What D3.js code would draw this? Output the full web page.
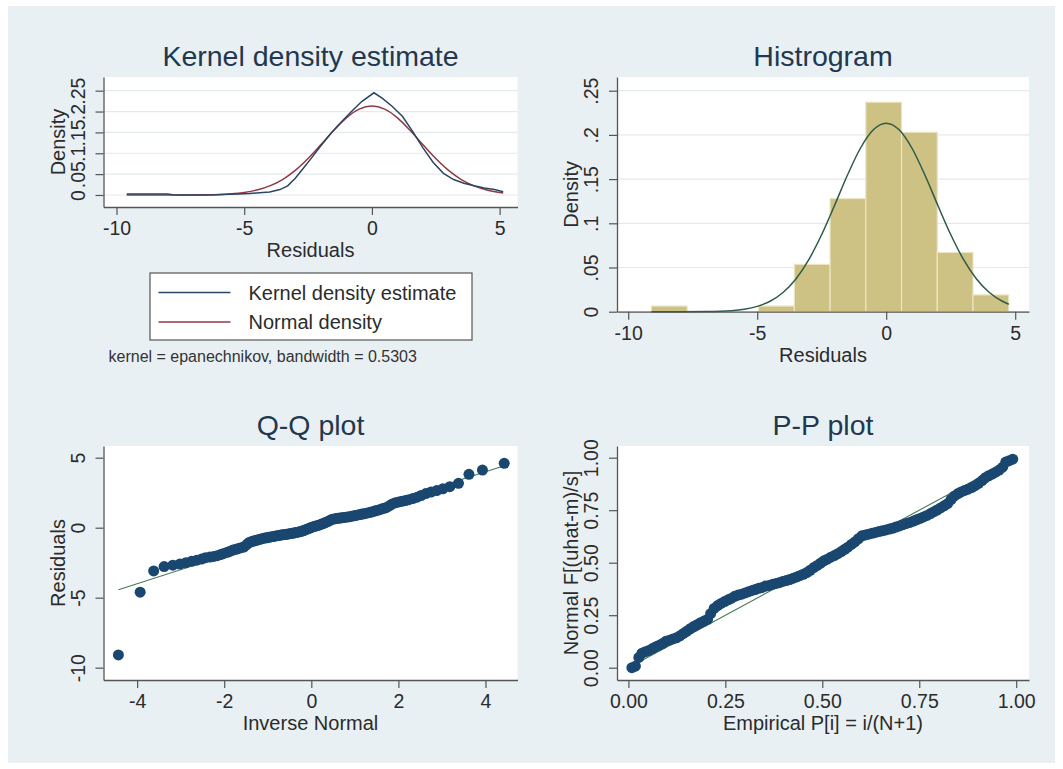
<!DOCTYPE html>
<html>
<head>
<meta charset="utf-8">
<script src="https://d3js.org/d3.v7.min.js"></script>
<style>
  body { margin: 0; background: #fff; }
  svg { display: block; font-family: "Liberation Sans", Arial, sans-serif; }
  .ptitle { fill: #22384f; font-size: 28.5px; }
  .atitle { fill: #2b2b2b; font-size: 20px; }
</style>
</head>
<body>
<div id="my_dataviz"></div>
<script>

// ---- kernel density panel ----
var kdeX = [-9.6, -9.0, -8.5, -8.0, -7.8, -7.5, -7.0, -6.5, -6.0, -5.6,
            -5.2, -4.8, -4.4, -4.0, -3.6, -3.3, -3.0, -2.7, -2.4, -2.0,
            -1.6, -1.2, -0.8, -0.4, 0.08, 0.4, 0.8, 1.2, 1.6, 2.0,
            2.4, 2.8, 3.2, 3.6, 4.0, 4.4, 4.8, 5.14];
var kdeY = [0.0025, 0.0026, 0.0025, 0.0022, 0.0008, 0.0, 0.0, 0.0, 0.0003, 0.0015,
            0.0025, 0.0035, 0.0055, 0.007, 0.013, 0.022, 0.040, 0.063, 0.086, 0.118,
            0.148, 0.175, 0.200, 0.224, 0.245, 0.232, 0.212, 0.188, 0.152, 0.113,
            0.078, 0.052, 0.037, 0.028, 0.022, 0.017, 0.013, 0.008];
var normX = [-9.6, -8.0, -7.0, -6.0, -5.5, -5.0, -4.5, -4.0, -3.5, -3.0, -2.5, -2.0, -1.5,
             -1.0, -0.5, 0.0, 0.5, 1.0, 1.5, 2.0, 2.5, 3.0, 3.5, 4.0, 4.5, 5.14];
var normY = [0.0000, 0.0000, 0.0002, 0.0012, 0.0028, 0.0060, 0.0118, 0.0217, 0.0370, 0.0589, 0.0873, 0.1204, 0.1546,
             0.1849, 0.2058, 0.2133, 0.2058, 0.1849, 0.1546, 0.1204, 0.0873, 0.0589, 0.0370, 0.0217, 0.0118, 0.0049];

// ---- histogram panel ----
var binLo = [-9.10, -7.715, -6.33, -4.945, -3.56, -2.175, -0.79, 0.595, 1.98, 3.365];
var binHi = [-7.715, -6.33, -4.945, -3.56, -2.175, -0.79, 0.595, 1.98, 3.365, 4.75];
var binDensity = [0.0064, 0, 0, 0.0064, 0.0535, 0.128, 0.237, 0.203, 0.067, 0.019];
var histNormX = [-9.10, -8.0, -7.0, -6.0, -5.5, -5.0, -4.5, -4.0, -3.5, -3.0, -2.5, -2.0, -1.5,
                 -1.0, -0.5, 0.0, 0.5, 1.0, 1.5, 2.0, 2.5, 3.0, 3.5, 4.0, 4.5, 4.75];
var histNormY = [0.0000, 0.0000, 0.0002, 0.0012, 0.0028, 0.0060, 0.0118, 0.0217, 0.0370, 0.0589, 0.0873, 0.1204, 0.1546,
                 0.1849, 0.2058, 0.2133, 0.2058, 0.1849, 0.1546, 0.1204, 0.0873, 0.0589, 0.0370, 0.0217, 0.0118, 0.0085];

// ---- Q-Q panel: inverse normal vs sorted residuals ----
var qqInvNormal = [-4.43, -3.93, -3.62, -3.38, -3.18, -3.02, -2.88, -2.75, -2.63, -2.52,
                   -2.43, -2.33, -2.24, -2.16, -2.08, -2.01, -1.93, -1.86, -1.80, -1.73,
                   -1.67, -1.61, -1.55, -1.49, -1.44, -1.38, -1.33, -1.27, -1.22, -1.17,
                   -1.12, -1.07, -1.02, -0.98, -0.93, -0.88, -0.84, -0.79, -0.75, -0.70,
                   -0.66, -0.61, -0.57, -0.53, -0.48, -0.44, -0.40, -0.36, -0.31, -0.27,
                   -0.23, -0.19, -0.15, -0.10, -0.06, -0.02, 0.02, 0.06, 0.10, 0.15,
                   0.19, 0.23, 0.27, 0.31, 0.36, 0.40, 0.44, 0.48, 0.53, 0.57,
                   0.61, 0.66, 0.70, 0.75, 0.79, 0.84, 0.88, 0.93, 0.98, 1.02,
                   1.07, 1.12, 1.17, 1.22, 1.27, 1.33, 1.38, 1.44, 1.49, 1.55,
                   1.61, 1.67, 1.73, 1.80, 1.86, 1.93, 2.01, 2.08, 2.16, 2.24,
                   2.33, 2.43, 2.52, 2.63, 2.75, 2.88, 3.02, 3.18, 3.38, 3.62,
                   3.93, 4.43];
var qqResidual = [-9.09, -4.61, -3.09, -2.78, -2.68, -2.60, -2.50, -2.40, -2.32, -2.24,
                  -2.14, -2.10, -2.05, -2.00, -1.92, -1.84, -1.76, -1.68, -1.60, -1.54,
                  -1.48, -1.43, -1.38, -1.22, -1.08, -1.00, -0.95, -0.90, -0.86, -0.82,
                  -0.77, -0.74, -0.72, -0.69, -0.66, -0.63, -0.61, -0.58, -0.56, -0.53,
                  -0.51, -0.49, -0.47, -0.45, -0.42, -0.40, -0.38, -0.35, -0.32, -0.29,
                  -0.26, -0.22, -0.17, -0.11, -0.06, -0.01, 0.04, 0.08, 0.12, 0.16,
                  0.20, 0.25, 0.30, 0.35, 0.41, 0.47, 0.54, 0.61, 0.63, 0.65,
                  0.67, 0.69, 0.71, 0.73, 0.75, 0.77, 0.79, 0.82, 0.85, 0.88,
                  0.91, 0.94, 0.97, 1.00, 1.04, 1.08, 1.12, 1.17, 1.22, 1.27,
                  1.33, 1.39, 1.45, 1.58, 1.70, 1.78, 1.84, 1.89, 1.94, 2.00,
                  2.08, 2.18, 2.30, 2.44, 2.55, 2.65, 2.78, 2.93, 3.17, 3.81,
                  4.12, 4.60];
var qqLineX = [-4.43, 4.43];
var qqLineY = [-4.43, 4.43];

// ---- P-P panel ----
var ppEmpirical = [0.009, 0.018, 0.027, 0.035, 0.044, 0.053, 0.062, 0.071, 0.080, 0.088,
                   0.097, 0.106, 0.115, 0.124, 0.133, 0.142, 0.150, 0.159, 0.168, 0.177,
                   0.186, 0.195, 0.204, 0.212, 0.221, 0.230, 0.239, 0.248, 0.257, 0.265,
                   0.274, 0.283, 0.292, 0.301, 0.310, 0.319, 0.327, 0.336, 0.345, 0.354,
                   0.363, 0.372, 0.381, 0.389, 0.398, 0.407, 0.416, 0.425, 0.434, 0.442,
                   0.451, 0.460, 0.469, 0.478, 0.487, 0.496, 0.504, 0.513, 0.522, 0.531,
                   0.540, 0.549, 0.558, 0.566, 0.575, 0.584, 0.593, 0.602, 0.611, 0.619,
                   0.628, 0.637, 0.646, 0.655, 0.664, 0.673, 0.681, 0.690, 0.699, 0.708,
                   0.717, 0.726, 0.735, 0.743, 0.752, 0.761, 0.770, 0.779, 0.788, 0.796,
                   0.805, 0.814, 0.823, 0.832, 0.841, 0.850, 0.858, 0.867, 0.876, 0.885,
                   0.894, 0.903, 0.912, 0.920, 0.929, 0.938, 0.947, 0.956, 0.965, 0.973,
                   0.982, 0.991];
var ppNormal = [0.000, 0.007, 0.049, 0.069, 0.076, 0.082, 0.091, 0.100, 0.107, 0.115,
                0.126, 0.131, 0.137, 0.142, 0.152, 0.163, 0.173, 0.185, 0.196, 0.205,
                0.214, 0.222, 0.230, 0.257, 0.282, 0.296, 0.306, 0.315, 0.323, 0.330,
                0.340, 0.346, 0.350, 0.356, 0.362, 0.368, 0.372, 0.378, 0.382, 0.389,
                0.392, 0.397, 0.401, 0.405, 0.411, 0.415, 0.420, 0.426, 0.432, 0.438,
                0.445, 0.453, 0.464, 0.477, 0.487, 0.498, 0.509, 0.517, 0.526, 0.534,
                0.543, 0.553, 0.564, 0.574, 0.587, 0.599, 0.614, 0.628, 0.632, 0.636,
                0.640, 0.644, 0.648, 0.652, 0.656, 0.660, 0.664, 0.670, 0.675, 0.681,
                0.687, 0.692, 0.698, 0.704, 0.711, 0.718, 0.725, 0.734, 0.743, 0.751,
                0.761, 0.771, 0.781, 0.801, 0.818, 0.829, 0.837, 0.844, 0.850, 0.858,
                0.867, 0.878, 0.891, 0.904, 0.914, 0.922, 0.931, 0.941, 0.955, 0.979,
                0.986, 0.993];
var ppLineX = [0, 1];
var ppLineY = [0, 1];

// ---- tick values / labels ----
var resTicks = [-10, -5, 0, 5];
var resLabels = ["-10", "-5", "0", "5"];
var densTicks = [0, 0.05, 0.1, 0.15, 0.2, 0.25];
var densLabels = ["0", ".05", ".1", ".15", ".2", ".25"];
var invTicks = [-4, -2, 0, 2, 4];
var invLabels = ["-4", "-2", "0", "2", "4"];
var qqYTicks = [-10, -5, 0, 5];
var qqYLabels = ["-10", "-5", "0", "5"];
var probTicks = [0, 0.25, 0.5, 0.75, 1];
var probLabels = ["0.00", "0.25", "0.50", "0.75", "1.00"];

var W = 1063, H = 769;
var axisColor = "#555", textColor = "#2b2b2b";

var svg = d3.select("#my_dataviz")
  .append("svg")
    .attr("width", W)
    .attr("height", H);

// graph region background
svg.append("rect")
  .attr("x", 8).attr("y", 6)
  .attr("width", W - 16).attr("height", H - 12)
  .attr("fill", "#e9f0f3");

function makePanel(c) {
  var x = d3.scaleLinear().domain(c.xDomain).range([c.left, c.right]);
  var y = d3.scaleLinear().domain(c.yDomain).range([c.bottom, c.top]);
  var g = svg.append("g");

  g.append("rect")
    .attr("x", c.left).attr("y", c.top)
    .attr("width", c.right - c.left).attr("height", c.bottom - c.top)
    .attr("fill", "#fff");

  if (c.grid) {
    g.append("g").selectAll("line")
      .data(c.yTicks)
      .enter()
      .append("line")
        .attr("x1", c.left).attr("x2", c.right)
        .attr("y1", function(d) { return y(d); })
        .attr("y2", function(d) { return y(d); })
        .attr("stroke", "#e2eaee")
        .attr("stroke-width", 1.2);
  }
  return { x: x, y: y, g: g, c: c };
}

function drawAxes(p) {
  var c = p.c;
  var xa = p.g.append("g")
    .attr("transform", "translate(0," + c.bottom + ")")
    .call(d3.axisBottom(p.x).tickValues(c.xTicks)
      .tickFormat(function(d, i) { return c.xLabels[i]; })
      .tickSize(8).tickSizeOuter(0));
  var ya = p.g.append("g")
    .attr("transform", "translate(" + c.left + ",0)")
    .call(d3.axisLeft(p.y).tickValues(c.yTicks)
      .tickFormat(function(d, i) { return c.yLabels[i]; })
      .tickSize(8).tickSizeOuter(0));

  [xa, ya].forEach(function(a) {
    a.attr("font-size", null).attr("font-family", null);
    a.select(".domain").attr("stroke", axisColor).attr("stroke-width", 1.3);
    a.selectAll(".tick line").attr("stroke", axisColor).attr("stroke-width", 1.2);
    a.selectAll(".tick text").attr("fill", textColor).style("font-size", "19.5px");
  });
  xa.selectAll(".tick text").attr("y", 28).attr("dy", 0);
  ya.selectAll(".tick text")
    .attr("x", 0).attr("dy", 0)
    .attr("text-anchor", "middle")
    .attr("transform", "translate(-19,0) rotate(-90)");

  // titles
  var cx = (c.left + c.right) / 2, cy = (c.top + c.bottom) / 2;
  p.g.append("text").attr("class", "ptitle")
    .attr("x", cx).attr("y", c.top - 11)
    .attr("text-anchor", "middle").text(c.title);
  p.g.append("text").attr("class", "atitle")
    .attr("x", cx).attr("y", c.bottom + 50)
    .attr("text-anchor", "middle").text(c.xTitle);
  p.g.append("text").attr("class", "atitle")
    .attr("text-anchor", "middle")
    .attr("transform", "translate(" + (c.left - 39) + "," + cy + ") rotate(-90)")
    .text(c.yTitle);
}

// ---------- Kernel density estimate ----------
var p1 = makePanel({
  left: 103.5, right: 517.5, top: 77, bottom: 207,
  xDomain: [-10.509, 5.70], yDomain: [-0.0288, 0.2828],
  xTicks: resTicks, xLabels: resLabels, yTicks: densTicks, yLabels: densLabels,
  grid: true, title: "Kernel density estimate", xTitle: "Residuals", yTitle: "Density"
});

p1.g.append("path")
  .datum(d3.range(normX.length))
  .attr("fill", "none").attr("stroke", "#8e3a44").attr("stroke-width", 1.5)
  .attr("d", d3.line()
    .x(function(i) { return p1.x(normX[i]); })
    .y(function(i) { return p1.y(normY[i]); })
    .curve(d3.curveMonotoneX));

p1.g.append("path")
  .datum(d3.range(kdeX.length))
  .attr("fill", "none").attr("stroke", "#2c4660").attr("stroke-width", 1.5)
  .attr("d", d3.line()
    .x(function(i) { return p1.x(kdeX[i]); })
    .y(function(i) { return p1.y(kdeY[i]); }));

drawAxes(p1);

// legend
var leg = svg.append("g");
leg.append("rect")
  .attr("x", 150).attr("y", 273).attr("width", 322).attr("height", 67)
  .attr("fill", "#fff").attr("stroke", "#555").attr("stroke-width", 1.2);
var legItems = [
  { label: "Kernel density estimate", color: "#2c4660" },
  { label: "Normal density", color: "#8e3a44" }
];
legItems.forEach(function(d, i) {
  var ly = 292.5 + i * 29.5;
  leg.append("line")
    .attr("x1", 158.5).attr("x2", 230.5).attr("y1", ly).attr("y2", ly)
    .attr("stroke", d.color).attr("stroke-width", 1.5);
  leg.append("text")
    .attr("x", 248.5).attr("y", ly + 7)
    .attr("fill", textColor).style("font-size", "20px")
    .text(d.label);
});
svg.append("text")
  .attr("x", 108.5).attr("y", 361.5)
  .attr("fill", "#333").style("font-size", "16px")
  .text("kernel = epanechnikov, bandwidth = 0.5303");

// ---------- Histogram ----------
var p2 = makePanel({
  left: 617, right: 1029, top: 77, bottom: 311.7,
  xDomain: [-10.434, 5.535], yDomain: [0, 0.2655],
  xTicks: resTicks, xLabels: resLabels, yTicks: densTicks, yLabels: densLabels,
  grid: true, title: "Histrogram", xTitle: "Residuals", yTitle: "Density"
});

p2.g.append("g").selectAll("rect")
  .data(d3.range(binLo.length))
  .enter()
  .append("rect")
    .attr("x", function(i) { return p2.x(binLo[i]); })
    .attr("width", function(i) { return p2.x(binHi[i]) - p2.x(binLo[i]); })
    .attr("y", function(i) { return p2.y(binDensity[i]); })
    .attr("height", function(i) { return p2.y(0) - p2.y(binDensity[i]); })
    .attr("fill", "#cdc183")
    .attr("stroke", "#ece5c2")
    .attr("stroke-width", 1.2);

p2.g.append("path")
  .datum(d3.range(histNormX.length))
  .attr("fill", "none").attr("stroke", "#2f5a48").attr("stroke-width", 1.5)
  .attr("d", d3.line()
    .x(function(i) { return p2.x(histNormX[i]); })
    .y(function(i) { return p2.y(histNormY[i]); })
    .curve(d3.curveMonotoneX));

drawAxes(p2);

// ---------- Q-Q plot ----------
var p3 = makePanel({
  left: 103.5, right: 517.5, top: 446, bottom: 680,
  xDomain: [-4.772, 4.735], yDomain: [-10.88, 5.836],
  xTicks: invTicks, xLabels: invLabels, yTicks: qqYTicks, yLabels: qqYLabels,
  grid: false, title: "Q-Q plot", xTitle: "Inverse Normal", yTitle: "Residuals"
});

p3.g.append("line")
  .attr("x1", p3.x(qqLineX[0])).attr("y1", p3.y(qqLineY[0]))
  .attr("x2", p3.x(qqLineX[1])).attr("y2", p3.y(qqLineY[1]))
  .attr("stroke", "#4b7559").attr("stroke-width", 1.1);

p3.g.append("g").selectAll("circle")
  .data(d3.range(qqResidual.length))
  .enter()
  .append("circle")
    .attr("cx", function(i) { return p3.x(qqInvNormal[i]); })
    .attr("cy", function(i) { return p3.y(qqResidual[i]); })
    .attr("r", 5.5)
    .attr("fill", "#1a476f");

drawAxes(p3);

// ---------- P-P plot ----------
var p4 = makePanel({
  left: 617, right: 1029, top: 446, bottom: 680,
  xDomain: [-0.0294, 1.033], yDomain: [-0.0586, 1.0557],
  xTicks: probTicks, xLabels: probLabels, yTicks: probTicks, yLabels: probLabels,
  grid: false, title: "P-P plot", xTitle: "Empirical P[i] = i/(N+1)", yTitle: "Normal F[(uhat-m)/s]"
});

p4.g.append("line")
  .attr("x1", p4.x(ppLineX[0])).attr("y1", p4.y(ppLineY[0]))
  .attr("x2", p4.x(ppLineX[1])).attr("y2", p4.y(ppLineY[1]))
  .attr("stroke", "#4b7559").attr("stroke-width", 1.1);

p4.g.append("g").selectAll("circle")
  .data(d3.range(ppNormal.length))
  .enter()
  .append("circle")
    .attr("cx", function(i) { return p4.x(ppEmpirical[i]); })
    .attr("cy", function(i) { return p4.y(ppNormal[i]); })
    .attr("r", 5.5)
    .attr("fill", "#1a476f");

drawAxes(p4);

</script>
</body>
</html>
